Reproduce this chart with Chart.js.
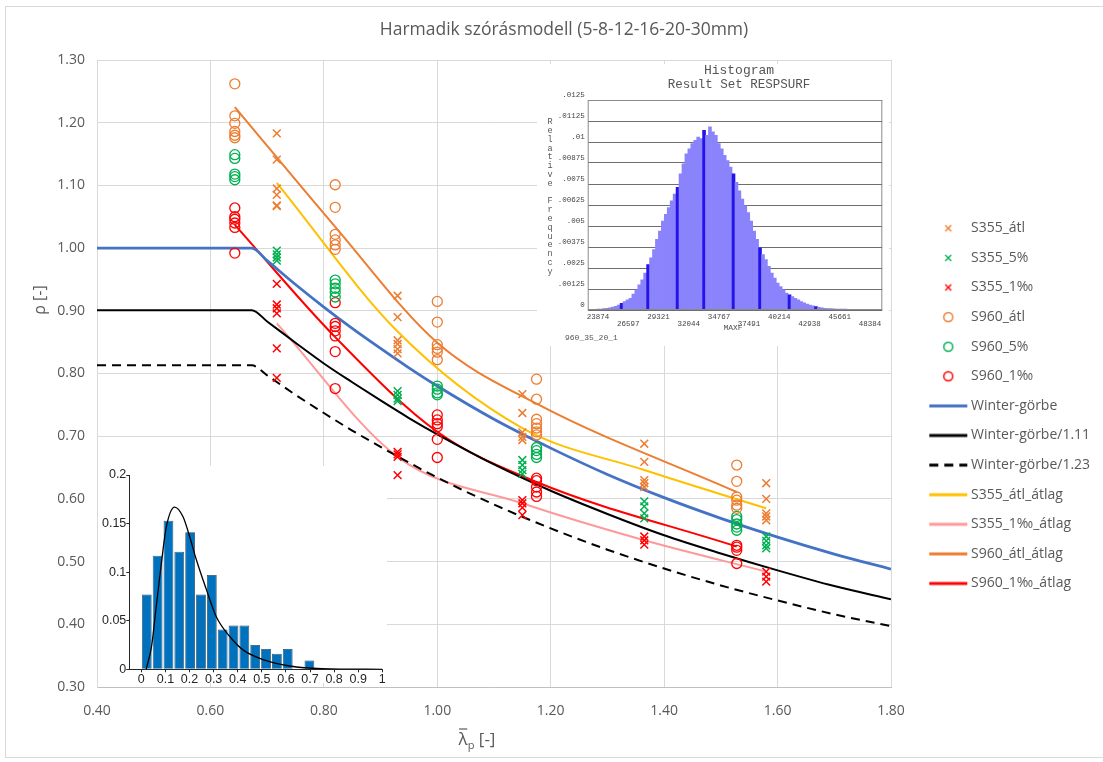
<!DOCTYPE html>
<html>
<head>
<meta charset="utf-8">
<script src="https://cdn.jsdelivr.net/npm/chart.js@4.4.1/dist/chart.umd.min.js"></script>
<style>
  html, body { margin: 0; padding: 0; background: #fff; overflow: hidden; }
  #wrap { position: relative; width: 1103px; height: 762px; overflow: hidden; }
  #wrap canvas, #wrap div { position: absolute; }
  #frame { left: 5px; top: 6px; width: 1110px; height: 750px; border: 1px solid #d9d9d9; }
  #bgA { left: 537px; top: 64px; width: 352px; height: 282px; background: #fff; }
  #bgB { left: 98px; top: 466px; width: 289px; height: 217px; background: #fff; }
  #main { left: 0; top: 0; }
  #histA { left: 537px; top: 64px; }
  #histB { left: 98px; top: 466px; }
</style>
</head>
<body>
<div id="wrap">
  <div id="frame"></div>
  <canvas id="main" width="1103" height="762"></canvas>
  <div id="bgA"></div>
  <div id="bgB"></div>
  <canvas id="histA" width="352" height="282"></canvas>
  <canvas id="histB" width="289" height="222"></canvas>
</div>
<script>
// --- main chart data ---
const chartTitle = "Harmadik szórásmodell (5-8-12-16-20-30mm)";
const s355X = [0.717, 0.93, 1.15, 1.365, 1.58];
const s960X = [0.643, 0.82, 1.0, 1.175, 1.528];

// one inner array per x column
const s355Atl = [
  [1.183, 1.141, 1.095, 1.085, 1.068, 1.067],
  [0.924, 0.890, 0.853, 0.847, 0.839, 0.832],
  [0.767, 0.737, 0.706, 0.699, 0.694],
  [0.688, 0.659, 0.630, 0.625, 0.619],
  [0.625, 0.600, 0.577, 0.572, 0.566]
];
const s355P5 = [
  [0.996, 0.990, 0.985, 0.980],
  [0.772, 0.766, 0.760, 0.756],
  [0.662, 0.654, 0.646, 0.640],
  [0.596, 0.588, 0.577, 0.569],
  [0.540, 0.533, 0.526, 0.521]
];
const s355P1 = [
  [0.943, 0.910, 0.904, 0.896, 0.840, 0.793],
  [0.675, 0.671, 0.667, 0.638],
  [0.598, 0.593, 0.586, 0.574],
  [0.540, 0.534, 0.527],
  [0.484, 0.476, 0.468]
];
const s960Atl = [
  [1.262, 1.211, 1.199, 1.186, 1.180, 1.176],
  [1.101, 1.065, 1.022, 1.013, 1.005, 0.998],
  [0.915, 0.882, 0.846, 0.840, 0.834, 0.822],
  [0.791, 0.759, 0.727, 0.720, 0.713, 0.707, 0.702],
  [0.654, 0.628, 0.603, 0.598, 0.590, 0.585]
];
const s960P5 = [
  [1.149, 1.143, 1.118, 1.114, 1.109],
  [0.949, 0.943, 0.936, 0.930, 0.922],
  [0.780, 0.775, 0.769, 0.766],
  [0.682, 0.677, 0.671, 0.666],
  [0.572, 0.567, 0.560, 0.555, 0.550]
];
const s960P1 = [
  [1.064, 1.050, 1.046, 1.040, 1.033, 0.992],
  [0.913, 0.880, 0.875, 0.868, 0.860, 0.835, 0.776],
  [0.734, 0.726, 0.720, 0.715, 0.695, 0.666],
  [0.633, 0.629, 0.619, 0.611, 0.604],
  [0.526, 0.523, 0.518, 0.497]
];

const winterX = [0.4, 0.673, 0.7, 0.75, 0.8, 0.85, 0.9, 0.95, 1.0, 1.1, 1.2, 1.3, 1.4, 1.5, 1.6, 1.7, 1.8];
const winter    = [1.000, 1.000, 0.980, 0.942, 0.906, 0.872, 0.840, 0.809, 0.780, 0.727, 0.681, 0.639, 0.602, 0.569, 0.539, 0.512, 0.488];
const winter111 = [0.901, 0.901, 0.883, 0.849, 0.816, 0.786, 0.757, 0.729, 0.703, 0.655, 0.613, 0.576, 0.542, 0.513, 0.486, 0.461, 0.440];
const winter123 = [0.813, 0.813, 0.797, 0.766, 0.737, 0.709, 0.683, 0.658, 0.634, 0.591, 0.553, 0.519, 0.489, 0.462, 0.438, 0.416, 0.397];

const s355AtlMean = [1.104, 0.867, 0.713, 0.646, 0.585];
const s355P1Mean  = [0.880, 0.667, 0.593, 0.534, 0.484];
const s960AtlMean = [1.225, 1.034, 0.849, 0.752, 0.611];
const s960P1Mean  = [1.037, 0.858, 0.707, 0.627, 0.524];

// --- inset: ANSYS histogram ---
const maxfTicks = [23874, 26597, 29321, 32044, 34767, 37491, 40214, 42938, 45661, 48384];
const respTicks = [0, 0.00125, 0.0025, 0.00375, 0.005, 0.00625, 0.0075, 0.00875, 0.01, 0.01125, 0.0125];
const respTickLabels = ["0", ".00125", ".0025", ".00375", ".005", ".00625", ".0075", ".00875", ".01", ".01125", ".0125"];
const respFreq = [
  0.00003, 0.00003, 0.00004, 0.00005, 0.00006, 0.00008, 0.0001, 0.00013, 0.00017, 0.00022,
  0.0003, 0.0004, 0.0005, 0.0006, 0.0007, 0.00095, 0.0012, 0.0015, 0.0018, 0.0022,
  0.0027, 0.0031, 0.0036, 0.0042, 0.0047, 0.0053, 0.0057, 0.0061, 0.0065, 0.0069,
  0.0073, 0.0081, 0.0087, 0.0093, 0.0096, 0.0099, 0.0101, 0.0103, 0.0102, 0.0107,
  0.0104, 0.0109, 0.0106, 0.0104, 0.0099, 0.0096, 0.0092, 0.0089, 0.0085, 0.0081,
  0.0076, 0.0071, 0.0066, 0.0062, 0.0058, 0.0053, 0.0047, 0.0042, 0.0037, 0.0033,
  0.0030, 0.0026, 0.0022, 0.0019, 0.0016, 0.0014, 0.0012, 0.0010, 0.0009, 0.0008,
  0.0007, 0.0006, 0.0005, 0.00042, 0.00035, 0.0003, 0.00025, 0.0002, 0.00016, 0.00013,
  0.0001, 0.00009, 0.00008, 0.00007, 0.00006, 0.00006, 0.00005, 0.00005, 0.00004, 0.00004,
  0.00003, 0.00003, 0.00003, 0.00002, 0.00002, 0.00002, 0.00002, 0.00002, 0.00002, 0.00002
];
const darkBins = [11, 20, 30, 39, 49, 58, 68, 77];

// --- inset: small histogram with fitted curve ---
const smallBinCenters = [0.0225, 0.0675, 0.1125, 0.1575, 0.2025, 0.2475, 0.2925, 0.3375, 0.3825, 0.4275, 0.4725, 0.5175, 0.5625, 0.6075, 0.6525, 0.6975];
const smallFreq = [0.077, 0.117, 0.153, 0.121, 0.141, 0.077, 0.097, 0.041, 0.045, 0.045, 0.025, 0.021, 0.016, 0.021, 0, 0.009];
const smallCurveX = [0.02, 0.042, 0.062, 0.083, 0.104, 0.138, 0.173, 0.2, 0.228, 0.27, 0.311, 0.366, 0.422, 0.505, 0.616, 0.75, 1.0];
const smallCurveY = [0, 0.023, 0.065, 0.109, 0.147, 0.167, 0.157, 0.137, 0.113, 0.082, 0.054, 0.034, 0.020, 0.010, 0.0034, 0.0007, 0];
const smallXTicks = [0, 0.1, 0.2, 0.3, 0.4, 0.5, 0.6, 0.7, 0.8, 0.9, 1];
const smallYTicks = [0, 0.05, 0.1, 0.15, 0.2];

Chart.defaults.font.family = "'Open Sans', sans-serif";
Chart.defaults.color = "#595959";

const ORANGE = "#ED7D31", GREEN = "#00B050", RED = "#FF0000";

function columnsToPoints(xs, cols) {
  return xs.flatMap((x, i) => cols[i].map(y => ({ x, y })));
}
function curve(xs, ys) {
  return xs.map((x, i) => ({ x, y: ys[i] }));
}
function marks(label, xs, cols, color, style) {
  return {
    label, data: columnsToPoints(xs, cols), pointStyle: style,
    borderColor: color, backgroundColor: "transparent",
    pointRadius: style === "circle" ? 5 : 5.5, pointBorderWidth: style === "circle" ? 1.3 : 1.5,
    pointHoverRadius: 0
  };
}
function line(label, xs, ys, color, width, extra) {
  return Object.assign({
    label, data: curve(xs, ys), showLine: true, borderColor: color, backgroundColor: color,
    borderWidth: width, pointRadius: 0, pointHoverRadius: 0, cubicInterpolationMode: "monotone"
  }, extra || {});
}

// legend marker drawn into a small canvas, used as the legend point style
function legendIcon(ds) {
  const c = document.createElement("canvas");
  c.width = 80; c.height = 16;
  const g = c.getContext("2d");
  g.strokeStyle = ds.borderColor;
  g.beginPath();
  if (ds.showLine) {
    g.lineWidth = 3;
    g.setLineDash(ds.borderDash || []);
    g.moveTo(34, 8); g.lineTo(72, 8);
  } else if (ds.pointStyle === "circle") {
    g.lineWidth = 1.5;
    g.arc(53, 8, 4.5, 0, Math.PI * 2);
  } else {
    g.lineWidth = 1.4;
    g.moveTo(50, 5); g.lineTo(56, 11); g.moveTo(56, 5); g.lineTo(50, 11);
  }
  g.stroke();
  return c;
}

const mainTexts = {
  id: "mainTexts",
  afterDraw(chart) {
    const ctx = chart.ctx;
    ctx.save();
    ctx.fillStyle = "#595959";
    ctx.textBaseline = "middle";
    ctx.textAlign = "center";
    ctx.font = "17.5px 'Open Sans'";
    ctx.fillText(chartTitle, 564, 30);

    // x title: lambda with bar, subscript p
    ctx.textAlign = "left";
    const big = "17px 'Open Sans'", small = "11px 'Open Sans'";
    ctx.font = big; const wl = ctx.measureText("λ").width; const wr = ctx.measureText(" [-]").width;
    ctx.font = small; const wp = ctx.measureText("p").width;
    let x0 = 477 - (wl + wp + wr) / 2;
    ctx.font = big; ctx.fillText("λ", x0, 740);
    ctx.strokeStyle = "#595959"; ctx.lineWidth = 1.2;
    ctx.beginPath(); ctx.moveTo(x0 + 0.5, 729); ctx.lineTo(x0 + wl - 0.5, 729); ctx.stroke();
    ctx.font = small; ctx.fillText("p", x0 + wl, 746);
    ctx.font = big; ctx.fillText(" [-]", x0 + wl + wp, 740);

    ctx.translate(40, 300);
    ctx.rotate(-Math.PI / 2);
    ctx.textAlign = "center";
    ctx.font = "16px 'Open Sans'";
    ctx.fillText("ρ [-]", 0, 0);
    ctx.restore();
  }
};

new Chart(document.getElementById("main"), {
  type: "scatter",
  data: {
    datasets: [
      marks("S355_átl", s355X, s355Atl, ORANGE, "crossRot"),
      marks("S355_5%", s355X, s355P5, GREEN, "crossRot"),
      marks("S355_1‰", s355X, s355P1, RED, "crossRot"),
      marks("S960_átl", s960X, s960Atl, ORANGE, "circle"),
      marks("S960_5%", s960X, s960P5, GREEN, "circle"),
      marks("S960_1‰", s960X, s960P1, RED, "circle"),
      line("Winter-görbe", winterX, winter, "#4472C4", 2.75),
      line("Winter-görbe/1.11", winterX, winter111, "#000000", 2),
      line("Winter-görbe/1.23", winterX, winter123, "#000000", 2, { borderDash: [9, 6] }),
      line("S355_átl_átlag", s355X, s355AtlMean, "#FFC000", 2),
      line("S355_1‰_átlag", s355X, s355P1Mean, "#FF9999", 2),
      line("S960_átl_átlag", s960X, s960AtlMean, ORANGE, 2),
      line("S960_1‰_átlag", s960X, s960P1Mean, RED, 2)
    ]
  },
  options: {
    responsive: false,
    animation: false,
    layout: { padding: { top: 60, bottom: 10.2, left: 0, right: 0 } },
    scales: {
      x: {
        type: "linear", min: 0.4, max: 1.8,
        ticks: { stepSize: 0.2, callback: v => v.toFixed(2), font: { size: 14 }, padding: 16 },
        grid: { color: "#d9d9d9", drawTicks: false },
        border: { color: "#bfbfbf" },
        afterFit: s => { s.height = 64.8; s.paddingRight = 212; }
      },
      y: {
        min: 0.3, max: 1.3,
        ticks: { stepSize: 0.1, callback: v => v.toFixed(2), font: { size: 14 }, padding: 12 },
        grid: { color: "#d9d9d9", drawTicks: false },
        border: { color: "#d9d9d9" },
        afterFit: s => { s.width = 97; }
      }
    },
    plugins: {
      title: { display: false },
      tooltip: { enabled: false },
      legend: {
        position: "right",
        maxWidth: 212,
        labels: {
          usePointStyle: true,
          pointStyleWidth: 57.4,
          boxHeight: 14,
          padding: 15.6,
          color: "#595959",
          font: { size: 14 },
          generateLabels(chart) {
            const items = Chart.defaults.plugins.legend.labels.generateLabels(chart);
            items.forEach(item => { item.pointStyle = legendIcon(chart.data.datasets[item.datasetIndex]); });
            return items;
          }
        }
      }
    }
  },
  plugins: [mainTexts]
});

// --- ANSYS style histogram inset ---
const histATexts = {
  id: "histATexts",
  afterDraw(chart) {
    const ctx = chart.ctx, a = chart.chartArea;
    ctx.save();
    ctx.strokeStyle = "#8a8a8a"; ctx.lineWidth = 1;
    ctx.strokeRect(a.left + 0.5, a.top + 0.5, a.width - 1, a.height - 1);
    ctx.fillStyle = "#555";
    ctx.textAlign = "center"; ctx.textBaseline = "middle";
    ctx.font = "13px 'Liberation Mono'";
    ctx.fillText("Histogram", 202, 7);
    ctx.font = "12.5px 'Liberation Mono'";
    ctx.fillText("Result Set RESPSURF", 202, 21);
    ctx.font = "8px 'Liberation Mono'";
    ctx.fillText("MAXF", 196, 264);
    ctx.textAlign = "left";
    ctx.fillText("960_35_20_1", 28, 274);
    ctx.textAlign = "center";
    ctx.font = "8.5px 'Liberation Mono'";
    "Relative Frequency".split("").forEach((ch, i) => ctx.fillText(ch, 13, 58 + i * 8.8));
    ctx.restore();
  }
};

new Chart(document.getElementById("histA"), {
  type: "bar",
  data: {
    labels: respFreq.map((_, i) => i),
    datasets: [{
      data: respFreq,
      xAxisID: "bins",
      backgroundColor: respFreq.map((_, i) => darkBins.includes(i) ? "#2414e8" : "#8a83fb"),
      borderWidth: 0,
      barPercentage: 1,
      categoryPercentage: 1
    }]
  },
  options: {
    responsive: false,
    animation: false,
    layout: { padding: { top: 36, right: 6.7, left: 0, bottom: 0 } },
    scales: {
      bins: { type: "category", display: false },
      maxf: {
        type: "linear", position: "bottom", min: 22946, max: 49492, offset: false,
        afterBuildTicks: s => { s.ticks = maxfTicks.map(v => ({ value: v })); },
        ticks: {
          autoSkip: false, maxRotation: 0, padding: -4, color: "#444",
          font: { family: "'Liberation Mono'", size: 7.5, lineHeight: 0.9 },
          callback: (v, i) => i % 2 ? ["", String(v)] : String(v)
        },
        grid: { display: false },
        border: { display: false },
        afterFit: s => { s.height = 36; }
      },
      y: {
        min: 0, max: 0.0125,
        afterBuildTicks: s => { s.ticks = respTicks.map(v => ({ value: v })); },
        ticks: {
          padding: 3, labelOffset: -4.5, color: "#444",
          font: { family: "'Liberation Mono'", size: 7.5 },
          callback: (v, i) => respTickLabels[i]
        },
        grid: { color: "#6e6e6e", drawTicks: false },
        border: { display: false },
        afterFit: s => { s.width = 50.7; }
      }
    },
    plugins: { legend: { display: false }, tooltip: { enabled: false } }
  },
  plugins: [histATexts]
});

// --- small histogram inset ---
new Chart(document.getElementById("histB"), {
  type: "bar",
  data: {
    datasets: [
      {
        type: "line",
        data: curve(smallCurveX, smallCurveY),
        borderColor: "#000", borderWidth: 1.3, pointRadius: 0,
        cubicInterpolationMode: "monotone"
      },
      {
        data: curve(smallBinCenters, smallFreq),
        backgroundColor: "#0072BD",
        borderColor: "#27465f",
        borderWidth: 0.8,
        barPercentage: 0.9,
        categoryPercentage: 1
      }
    ]
  },
  options: {
    responsive: false,
    animation: false,
    layout: { padding: { top: 9, right: 4.7, left: 0, bottom: 0 } },
    scales: {
      x: {
        type: "linear", min: -0.05, max: 1, offset: false,
        afterBuildTicks: s => { s.ticks = smallXTicks.map(v => ({ value: v })); },
        ticks: {
          autoSkip: false, maxRotation: 0, padding: 0, color: "#262626",
          font: { family: "'Liberation Sans'", size: 12.5 },
          callback: v => String(+v.toFixed(2))
        },
        grid: { drawOnChartArea: false, offset: false, tickLength: 3, color: "#262626" },
        border: { color: "#262626" },
        afterFit: s => { s.height = 18.7; }
      },
      y: {
        min: 0, max: 0.2,
        afterBuildTicks: s => { s.ticks = smallYTicks.map(v => ({ value: v })); },
        ticks: {
          padding: 0, color: "#262626",
          font: { family: "'Liberation Sans'", size: 12.5 },
          callback: v => String(+v.toFixed(2))
        },
        grid: { drawOnChartArea: false, tickLength: 3, color: "#262626" },
        border: { color: "#262626" },
        afterFit: s => { s.width = 31.3; }
      }
    },
    plugins: { legend: { display: false }, tooltip: { enabled: false } }
  }
});
</script>
</body>
</html>
